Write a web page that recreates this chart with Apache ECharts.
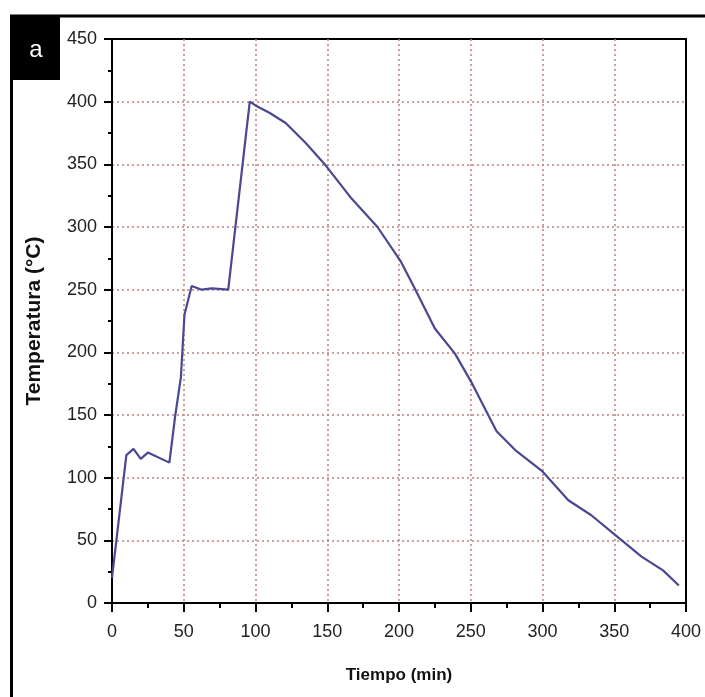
<!DOCTYPE html>
<html>
<head>
<meta charset="utf-8">
<script src="https://cdn.jsdelivr.net/npm/echarts@6/dist/echarts.min.js"></script>
<style>html,body{margin:0;padding:0;background:#fff;}#c{width:705px;height:697px;}</style>
</head>
<body>
<div id="c"></div>
<script>
const timeMin = [0, 10, 15, 20, 25, 40, 44, 48, 50.5, 55.5, 62.5, 69.5, 81, 96, 100, 110, 121, 135, 149, 166, 185, 201, 211, 225, 239, 251, 268, 281, 300, 318, 334, 351, 369, 384, 395];
const tempC = [20, 118, 123, 115, 120, 112, 149, 180, 230, 253, 250, 251, 250, 400, 397, 391, 383, 367, 349, 324, 300, 273, 251, 219, 199, 175, 137, 122, 105, 82, 70, 54, 37, 26, 14];
const xTicks = [0, 50, 100, 150, 200, 250, 300, 350, 400];
const yTicks = [0, 50, 100, 150, 200, 250, 300, 350, 400, 450];

const data = timeMin.map((t, i) => [t, tempC[i]]);
const chart = echarts.init(document.getElementById('c'), null, {renderer: 'canvas'});
const font = '"Liberation Sans", Arial, sans-serif';
const gridLine = {show: true, showMinLine: false, showMaxLine: false, lineStyle: {color: '#b88080', width: 1.5, type: [2, 3]}};
chart.setOption({
  animation: false,
  backgroundColor: '#fff',
  grid: {left: 112, top: 39, right: 19, bottom: 94, show: true, borderColor: '#000', borderWidth: 2, backgroundColor: 'transparent'},
  xAxis: {
    type: 'value', min: xTicks[0], max: xTicks[xTicks.length - 1], interval: 50,
    name: 'Tiempo (min)', nameLocation: 'middle', nameGap: 64,
    nameTextStyle: {fontFamily: font, fontWeight: 'bold', fontSize: 17, color: '#111'},
    axisLine: {show: true, onZero: false, lineStyle: {color: '#000', width: 2}},
    axisTick: {show: true, inside: false, length: 9, lineStyle: {color: '#000', width: 2}},
    minorTick: {show: true, splitNumber: 2, length: 5, lineStyle: {color: '#000', width: 2}},
    axisLabel: {fontFamily: font, fontSize: 18, color: '#222', margin: 20},
    splitLine: gridLine
  },
  yAxis: {
    type: 'value', min: yTicks[0], max: yTicks[yTicks.length - 1], interval: 50,
    name: 'Temperatura (°C)', nameLocation: 'middle', nameGap: 67, nameRotate: 90,
    nameTextStyle: {fontFamily: font, fontWeight: 'bold', fontSize: 21, color: '#111'},
    axisLine: {show: true, onZero: false, lineStyle: {color: '#000', width: 2}},
    axisTick: {show: true, inside: false, length: 8, lineStyle: {color: '#000', width: 2}},
    minorTick: {show: true, splitNumber: 2, length: 4, lineStyle: {color: '#000', width: 2}},
    axisLabel: {fontFamily: font, fontSize: 18, color: '#222', margin: 15},
    splitLine: gridLine
  },
  series: [{
    type: 'line', data: data, showSymbol: false, smooth: false,
    lineStyle: {color: '#4a4890', width: 2.2}, z: 5
  }],
  graphic: [
    {type: 'line', shape: {x1: 10, y1: 16, x2: 705, y2: 16}, style: {stroke: '#000', lineWidth: 3}, z: 10},
    {type: 'line', shape: {x1: 11.5, y1: 15, x2: 11.5, y2: 697}, style: {stroke: '#000', lineWidth: 3}, z: 10},
    {type: 'rect', shape: {x: 10, y: 15, width: 50, height: 65}, style: {fill: '#000'}, z: 10},
    {type: 'text', x: 36, y: 50, style: {text: 'a', fill: '#fff', font: '24px ' + font, align: 'center', verticalAlign: 'middle'}, z: 11}
  ]
});
</script>
</body>
</html>
